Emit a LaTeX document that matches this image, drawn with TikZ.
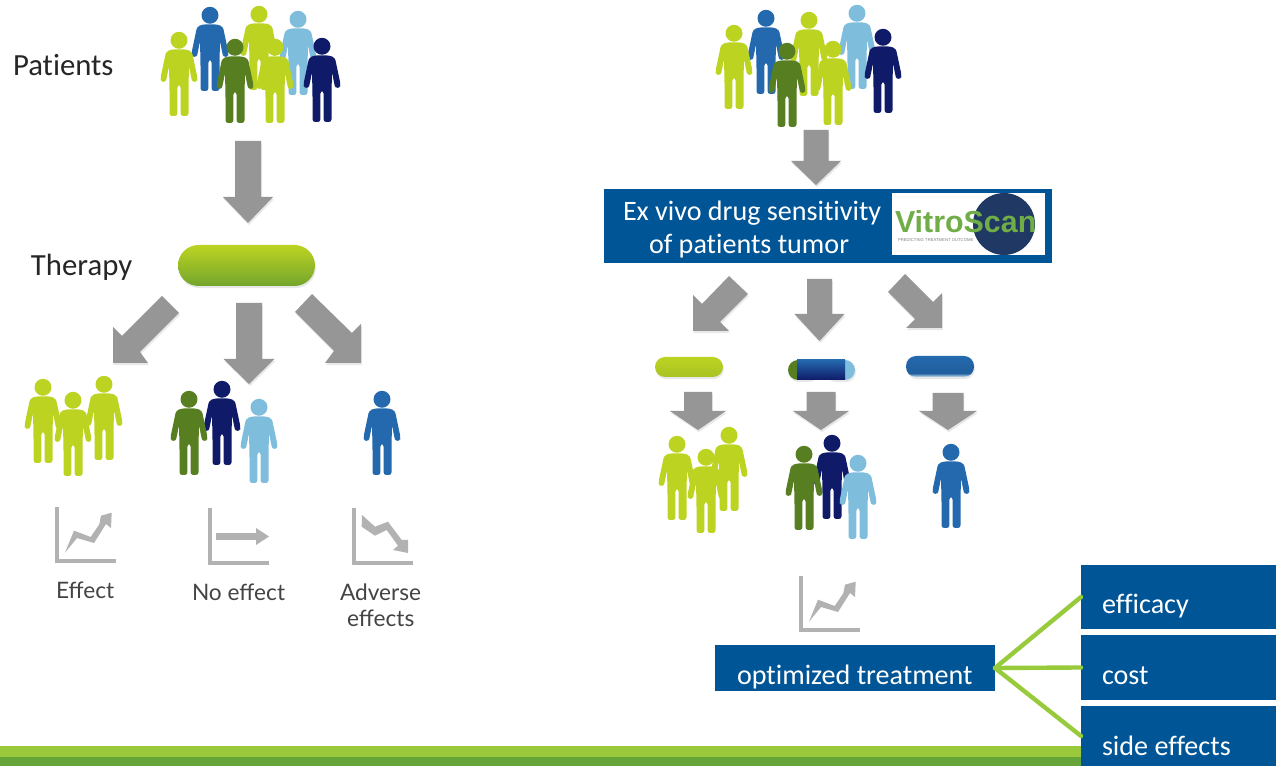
\documentclass[tikz,border=0pt]{standalone}
\usepackage{fontspec}
\setmainfont{Carlito}[Ligatures=NoCommon]
\newfontfamily\logofont{Liberation Sans}
\newfontfamily\iconfont{Lato}
\usetikzlibrary{shadows}
\definecolor{plime}{HTML}{BDD322}
\definecolor{pblue}{HTML}{2469AE}
\definecolor{pgreen}{HTML}{577F22}
\definecolor{psky}{HTML}{7FBDDC}
\definecolor{pnavy}{HTML}{0F1A68}
\definecolor{boxblue}{HTML}{005596}
\definecolor{arrowgray}{HTML}{969696}
\definecolor{icongray}{HTML}{B2B2B2}
\definecolor{textgray}{HTML}{444444}
\definecolor{bandlight}{HTML}{9ACA3C}
\definecolor{banddark}{HTML}{66A53A}
\definecolor{linkgreen}{HTML}{97CB3B}
\definecolor{logogreen}{HTML}{70AD47}
\definecolor{logonavy}{HTML}{1F3864}
\definecolor{pillolive}{HTML}{73A52C}
\pgfdeclareverticalshading{bluepill}{100bp}{color(0bp)=(white); color(25bp)=(psky!40); color(34bp)=(pblue!90!black); color(75bp)=(pblue); color(100bp)=(pblue)}
\tikzset{
  softshadow/.style={drop shadow={opacity=.18,shadow xshift=0.5pt,shadow yshift=-1.2pt}},
  blockarrow/.style={fill=arrowgray,draw=none,softshadow},
  txt/.style={inner sep=0,outer sep=0,anchor=base west},
  bigtxt/.style={txt,text=black!85,font=\fontsize{17.5pt}{20pt}\selectfont},
  whitetxt/.style={txt,text=white,font=\fontsize{16pt}{19pt}\selectfont},
  icontxt/.style={txt,text=textgray,font=\iconfont\fontsize{12.9pt}{15pt}\selectfont},
  bluebox/.style={fill=boxblue,draw=none,inner sep=0,outer sep=0,anchor=north west},
  pill/.style={rounded corners=#1,inner sep=0,outer sep=0,anchor=north west},
  linkline/.style={draw=linkgreen,line width=2.5pt,line cap=round},
  axisline/.style={draw=icongray,line width=2.2pt,line join=miter},
  iconhead/.style={fill=icongray,draw=none}
}
\newcommand{\person}[3]{%
  \begin{scope}[shift={(#1,#2)}]
    \fill[#3] (0,8.3) circle [radius=0.17cm];
    \fill[#3,rounded corners=1.5pt]
      (-8,17.5) -- (8,17.5) -- (13,20) -- (18.5,46) -- (18,50) -- (13.5,50) -- (12.5,47) -- (10,34)
      -- (9.5,56) -- (9.5,84) -- (1.6,84) -- (1.6,53) -- (-1.6,53) -- (-1.6,84) -- (-9.5,84) -- (-9.5,56)
      -- (-10,34) -- (-12.5,47) -- (-13.5,50) -- (-18,50) -- (-18.5,46) -- (-13,20) -- cycle;
  \end{scope}}
% centre x, top, head start y, tip y, half shaft, half head
\newcommand{\downarrowblock}[6]{%
  \path[blockarrow] ({#1-#5},#2) -- ({#1+#5},#2) -- ({#1+#5},#3) -- ({#1+#6},#3) -- (#1,#4)
    -- ({#1-#6},#3) -- ({#1-#5},#3) -- cycle;}
\newcommand{\risingicon}[2]{%
  \begin{scope}[shift={(#1,#2)}]
    \draw[axisline] (57,507) -- (57,561) -- (116,561);
    \fill[iconhead] (65,552.7) -- (74,530.7) -- (90.7,537) -- (99.3,524.3) -- (101,515.7)
      -- (111.7,512.7) -- (111,528) -- (106,524) -- (94,543) -- (77,538) -- cycle;
  \end{scope}}
\begin{document}
\begin{tikzpicture}[x=0.02cm,y=-0.02cm]
\useasboundingbox (0,0) rectangle (1276,766);
\fill[white] (0,0) rectangle (1276,766);

% bottom band
\fill[bandlight] (0,746) rectangle (1276,757);
\fill[banddark] (0,757) rectangle (1276,766);

% left labels
\node[bigtxt] (patients) at (13,76) {Patients};
\node[bigtxt] (therapy) at (31,276) {Therapy};

% left patient group
\person{210}{7}{pblue}
\person{259}{6}{plime}
\person{298}{11}{psky}
\person{179}{32}{plime}
\person{235}{39}{pgreen}
\person{275}{39}{plime}
\person{322}{38}{pnavy}

\downarrowblock{248}{141}{197}{223}{13}{25}

% therapy pill
\node[pill=20.5*0.02cm,softshadow,minimum width=137*0.02cm,minimum height=41*0.02cm,top color=plime,bottom color=pillolive] (therapypill) at (178,245) {};

% left split arrows
\path[blockarrow] (162,296) -- (179,313) -- (140,352) -- (148,363) -- (113,363) -- (113,327) -- (122,336) -- cycle;
\downarrowblock{249}{303}{359}{384}{13}{25.5}
\path[blockarrow] (312,294) -- (295,312) -- (334,351) -- (325,363) -- (361,363) -- (361,324) -- (352,333) -- cycle;

% left outcome groups
\person{43}{379}{plime}
\person{104}{376}{plime}
\person{73}{392}{plime}
\person{222}{381}{pnavy}
\person{189}{391}{pgreen}
\person{259}{399}{psky}
\person{382}{391}{pblue}

% left icons
\risingicon{0}{0}
\draw[axisline] (210,508) -- (210,563) -- (269,563);
\fill[icongray] (216,533) rectangle (257,540);
\fill[iconhead] (269,536.5) -- (256,528) -- (256,545) -- cycle;
\draw[axisline] (354,508) -- (354,563) -- (413,563);
\fill[iconhead] (362,515) -- (375,526.7) -- (388,521.7) -- (401.7,540) -- (408,540) -- (408,553)
  -- (393,550) -- (398,545.7) -- (386.7,530) -- (375,535.7) -- (361.7,526.7) -- cycle;

\node[icontxt] (effect) at (56,599) {Effect};
\node[icontxt] (noeffect) at (192,601) {No effect};
\node[icontxt] (adverse) at (340,601) {Adverse};
\node[icontxt] (effects) at (347,627) {effects};

% right patient group
\person{766}{10}{pblue}
\person{809}{12}{plime}
\person{857}{5}{psky}
\person{734}{25}{plime}
\person{787}{43}{pgreen}
\person{833}{41}{plime}
\person{883}{29}{pnavy}

\downarrowblock{816}{130}{161}{185}{12.5}{25}

% assay box with logo
\node[bluebox,minimum width=448*0.02cm,minimum height=74*0.02cm] (assay) at (604,189) {};
\node[whitetxt] (assayone) at (623,221) {Ex vivo drug sensitivity};
\node[whitetxt] (assaytwo) at (649,254) {of patients tumor};
\node[fill=white,inner sep=0,outer sep=0,anchor=north west,minimum width=153*0.02cm,minimum height=62*0.02cm] (logo) at (892,193) {};
\fill[logonavy] (1004,224) circle [radius=0.62cm];
\node[txt,text=logogreen,font=\logofont\bfseries\fontsize{17.3pt}{20pt}\selectfont] (logoname) at (895,233) {VitroScan};
\node[txt,text=gray,font=\logofont\fontsize{2.4pt}{3pt}\selectfont] (logotag) at (898,242) {PREDICTING TREATMENT OUTCOME};

% right split arrows
\path[blockarrow] (729,276) -- (748,294) -- (720,322) -- (729,331) -- (693,331) -- (693,295) -- (702,304) -- cycle;
\downarrowblock{819.5}{279}{314}{341}{12.5}{25}
\path[blockarrow] (905,274) -- (933,302) -- (942,293) -- (942,328) -- (906,328) -- (915,319) -- (888,292) -- cycle;

% small pills
\node[pill=10*0.02cm,softshadow,minimum width=68*0.02cm,minimum height=20*0.02cm,top color=plime,bottom color=plime!80!pgreen] (pillone) at (655,357) {};
\node[pill=10*0.02cm,softshadow,fill=pgreen,minimum width=30*0.02cm,minimum height=20*0.02cm] (pilltwoleft) at (788,360) {};
\node[pill=10*0.02cm,softshadow,fill=psky,minimum width=30*0.02cm,minimum height=20*0.02cm] (pilltworight) at (825,360) {};
\node[inner sep=0,outer sep=0,anchor=north west,minimum width=48*0.02cm,minimum height=20*0.02cm,top color=pblue,bottom color=pnavy] (pilltwo) at (797,360) {};
\node[pill=10*0.02cm,softshadow,minimum width=68*0.02cm,minimum height=21*0.02cm,shading=bluepill] (pillthree) at (906,356) {};

% lower arrows
\downarrowblock{698}{392}{411}{430}{14}{28}
\downarrowblock{821}{392}{411}{430}{14.5}{28}
\downarrowblock{948}{393}{411}{430}{15.5}{29}

% right outcome groups
\person{677}{436}{plime}
\person{729}{427}{plime}
\person{706}{449}{plime}
\person{832}{435}{pnavy}
\person{804}{446}{pgreen}
\person{858}{455}{psky}
\person{951}{444}{pblue}

\risingicon{744}{69}

% result boxes
\node[bluebox,minimum width=280*0.02cm,minimum height=46*0.02cm] (optimized) at (715,645) {};
\node[whitetxt] (optimizedtxt) at (737,685) {optimized treatment};
\node[bluebox,minimum width=195*0.02cm,minimum height=64*0.02cm] (efficacy) at (1081,565) {};
\node[bluebox,minimum width=195*0.02cm,minimum height=65*0.02cm] (cost) at (1081,635) {};
\node[bluebox,minimum width=195*0.02cm,minimum height=60*0.02cm] (sideeffects) at (1081,706) {};
\node[whitetxt] (efficacytxt) at (1102,614) {efficacy};
\node[whitetxt] (costtxt) at (1102,685) {cost};
\node[whitetxt] (sidetxt) at (1102,756) {side effects};

% connectors
\draw[linkline] (optimized.east) -- (efficacy.west);
\draw[linkline] (optimized.east) -- (cost.west);
\draw[linkline] (optimized.east) -- (sideeffects.west);
\end{tikzpicture}
\end{document}
